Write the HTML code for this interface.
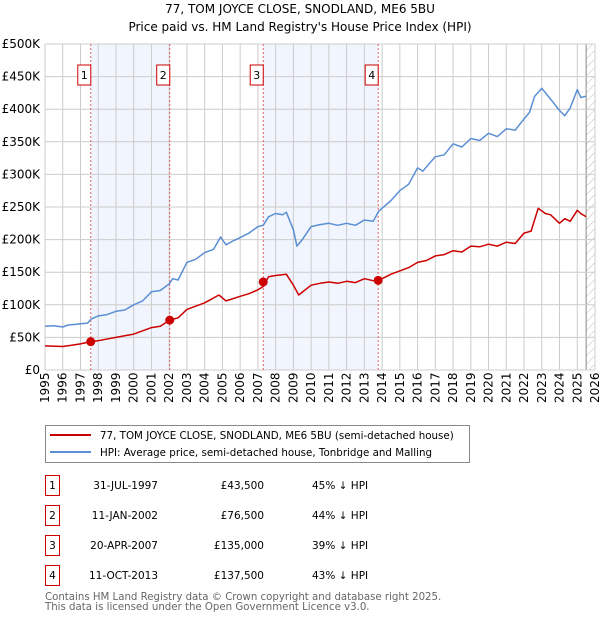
<!DOCTYPE html>
<html><head><meta charset="utf-8"><style>
body{margin:0;background:#fff;font-family:"DejaVu Sans","Liberation Sans",sans-serif;}
svg text{font-family:"DejaVu Sans","Liberation Sans",sans-serif;}
</style></head><body>
<svg id="c" width="600" height="620" xmlns="http://www.w3.org/2000/svg"></svg>
<script>
const years=[1995,1996,1997,1998,1999,2000,2001,2002,2003,2004,2005,2006,2007,2008,2009,2010,2011,2012,2013,2014,2015,2016,2017,2018,2019,2020,2021,2022,2023,2024,2025,2026];
const yTicks=[0,50,100,150,200,250,300,350,400,450,500];
const hpiT=[1995,1995.5,1996,1996.3,1996.7,1997,1997.4,1997.6,1998,1998.5,1999,1999.5,2000,2000.5,2001,2001.5,2002,2002.2,2002.5,2003,2003.5,2004,2004.5,2004.9,2005.2,2005.6,2006,2006.5,2007,2007.3,2007.6,2008,2008.4,2008.6,2009,2009.2,2009.5,2010,2010.5,2011,2011.5,2012,2012.5,2013,2013.5,2013.8,2014,2014.5,2015,2015.5,2016,2016.3,2016.7,2017,2017.5,2018,2018.5,2019,2019.5,2020,2020.5,2021,2021.5,2022,2022.3,2022.6,2023,2023.3,2023.6,2024,2024.3,2024.6,2025,2025.2,2025.5];
const hpiV=[67,68,66,69,70,71,72,78,83,85,90,92,100,106,120,122,132,140,138,165,170,180,185,204,192,198,203,210,220,222,235,240,238,242,215,190,200,220,223,225,222,225,222,230,228,243,248,260,275,285,310,305,318,327,330,347,342,355,352,363,358,370,368,385,395,420,432,422,412,398,390,402,430,418,420];
const ppT=[1995,1996,1996.5,1997,1997.58,1998,1999,2000,2001,2001.5,2002.03,2002.5,2003,2004,2004.8,2005.2,2006,2006.5,2007,2007.3,2007.6,2008,2008.6,2009,2009.3,2010,2010.5,2011,2011.5,2012,2012.5,2013,2013.5,2013.78,2014,2014.5,2015,2015.5,2016,2016.5,2017,2017.5,2018,2018.5,2019,2019.5,2020,2020.5,2021,2021.5,2022,2022.4,2022.8,2023.2,2023.5,2024,2024.3,2024.6,2025,2025.2,2025.5];
const ppV=[37,36,38,40,43.5,45,50,55,65,67,76.5,80,93,103,115,106,113,117,123,128,143,145,147,130,115,130,133,135,133,136,134,140,137,137.5,140,147,152,157,165,168,175,177,183,181,190,189,193,190,196,194,210,213,248,240,238,225,232,228,245,240,235];
const saleT=[1997.58,2002.03,2007.3,2013.78];
const saleV=[43.5,76.5,135,137.5];
const saleLbl=["1","2","3","4"];
const saleDate=["31-JUL-1997","11-JAN-2002","20-APR-2007","11-OCT-2013"];
const salePrice=["£43,500","£76,500","£135,000","£137,500"];
const saleDiff=["45% ↓ HPI","44% ↓ HPI","39% ↓ HPI","43% ↓ HPI"];

const NS="http://www.w3.org/2000/svg",svg=document.getElementById('c');
const X0=45,X1=595,Y0=370,Y1=44;
const xs=t=>X0+(t-1995)/(2026-1995)*(X1-X0);
const ys=v=>Y0-v/500*(Y0-Y1);
function mk(tag,at,parent){const e=document.createElementNS(NS,tag);for(const k in at)e.setAttribute(k,at[k]);(parent||svg).appendChild(e);return e;}
function tx(x,y,s,at){const e=mk('text',Object.assign({x:x,y:y,'font-size':12,fill:'#000'},at||{}));e.textContent=s;return e;}

let e;
e=tx(300,13,"77, TOM JOYCE CLOSE, SNODLAND, ME6 5BU",{'text-anchor':'middle'});

e=tx(300,31,"Price paid vs. HM Land Registry's House Price Index (HPI)",{'text-anchor':'middle'});


for(let i=0;i<saleT.length;i+=2){
  e=mk('rect',{x:xs(saleT[i]),y:Y1,width:xs(saleT[i+1])-xs(saleT[i]),height:Y0-Y1,fill:'#eef3fc',opacity:0.8});
  
}
const defs=mk('defs',{});
const pat=mk('pattern',{id:'h',width:6,height:6,patternUnits:'userSpaceOnUse',patternTransform:'rotate(45)'},defs);
mk('line',{x1:0,y1:0,x2:0,y2:6,stroke:'#bbb','stroke-width':1},pat);
e=mk('rect',{x:xs(2025.5),y:Y1,width:X1-xs(2025.5),height:Y0-Y1,fill:'url(#h)'});

mk('line',{x1:xs(2025.5),y1:Y1,x2:xs(2025.5),y2:Y0,stroke:'#888','stroke-width':1});

years.forEach(y=>{
  e=mk('line',{x1:xs(y),y1:Y1,x2:xs(y),y2:Y0,stroke:'#ccc','stroke-width':1});
  
  e=tx(0,0,String(y),{transform:`translate(${xs(y)+4},${Y0+33}) rotate(-90)`,'font-size':12});
  
});
yTicks.forEach(v=>{
  e=mk('line',{x1:X0,y1:ys(v),x2:X1,y2:ys(v),stroke:'#ccc','stroke-width':1});
  
  e=tx(40,ys(v)+4,v===0?"£0":"£"+v+"K",{'text-anchor':'end'});
  
});

saleT.forEach((t,i)=>{
  e=mk('line',{x1:xs(t),y1:Y1,x2:xs(t),y2:Y0,stroke:'#e06060','stroke-width':1,'stroke-dasharray':'2,2'});
  
  e=mk('rect',{x:xs(t)-13,y:65,width:13,height:20,fill:'#fff',stroke:'#c00','stroke-width':1});
  
  tx(xs(t)-6.5,79,saleLbl[i],{'text-anchor':'middle','font-size':11});
});

function path(T,V,col,name){
  const d=T.map((t,i)=>(i?'L':'M')+xs(t).toFixed(1)+','+ys(V[i]).toFixed(1)).join('');
  const p=mk('path',{d:d,fill:'none',stroke:col,'stroke-width':1.5,'stroke-linejoin':'round'});
  
}
path(hpiT,hpiV,'#5b8fd4','hpi-line');
path(ppT,ppV,'#cc0000','price-paid-line');
saleT.forEach((t,i)=>{
  e=mk('circle',{cx:xs(t),cy:ys(saleV[i]),r:4.5,fill:'#cc0000'});
  
});

e=mk('rect',{x:45.5,y:425.5,width:424,height:37,fill:'#fff',stroke:'#888','stroke-width':1});

mk('line',{x1:50,y1:435,x2:91,y2:435,stroke:'#cc0000','stroke-width':2});
e=tx(100,439,"77, TOM JOYCE CLOSE, SNODLAND, ME6 5BU (semi-detached house)",{'font-size':10.3});

mk('line',{x1:50,y1:452,x2:91,y2:452,stroke:'#5b8fd4','stroke-width':2});
e=tx(100,456,"HPI: Average price, semi-detached house, Tonbridge and Malling",{'font-size':10.3});


saleLbl.forEach((l,i)=>{
  const y=475+i*30;
  e=mk('rect',{x:45.5,y:y+0.5,width:14,height:20,fill:'#fff',stroke:'#c00','stroke-width':1});
  
  tx(52.5,y+14,l,{'text-anchor':'middle','font-size':10.5});
  e=tx(158,y+14,saleDate[i],{'text-anchor':'end','font-size':10.5});
  
  e=tx(264,y+14,salePrice[i],{'text-anchor':'end','font-size':10.5});
  
  e=tx(312,y+14,saleDiff[i],{'font-size':10.5});
  
});
e=tx(45,600,"Contains HM Land Registry data © Crown copyright and database right 2025.",{'font-size':10.2,fill:'#666'});

e=tx(45,610,"This data is licensed under the Open Government Licence v3.0.",{'font-size':10.2,fill:'#666'});

</script>
</body></html>
